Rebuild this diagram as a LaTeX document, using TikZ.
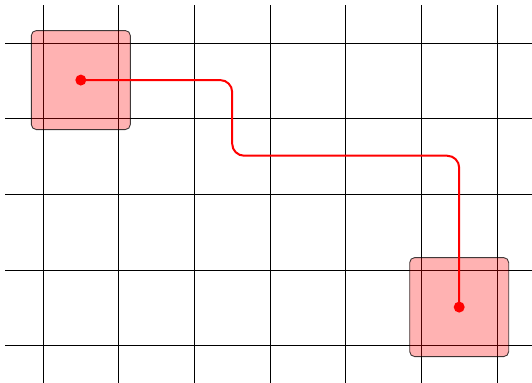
\documentclass[tikz,border=0pt]{standalone}
\begin{document}
\begin{tikzpicture}[x=75.67pt,y=-75.67pt,
  gridline/.style={black,line width=0.9pt},
  cell/.style={draw=black,draw opacity=0.75,fill=red,fill opacity=0.3,line width=0.9pt,rounded corners=5pt,minimum size=99pt,inner sep=0pt},
  dot/.style={circle,fill=red,minimum size=11pt,inner sep=0pt},
  route/.style={red,line width=2pt,rounded corners=12pt}]
\useasboundingbox (-0.568,-0.568) rectangle (6.462,4.493);
\begin{scope}
\clip (-0.568,-0.568) rectangle (6.462,4.493);
\foreach \i in {0,...,6} \draw[gridline] (\i,-0.5) -- (\i,4.6);
\foreach \j in {0,...,4} \draw[gridline] (-0.5,\j) -- (6.6,\j);
\end{scope}
\node[cell] (a) at (0.5,0.49) {};
\node[cell] (b) at (5.5,3.49) {};
\coordinate (m) at (2.5,1.49);
\node[dot] (da) at (a.center) {};
\node[dot] (db) at (b.center) {};
\draw[route] (da.center) -| (m) -| (db.center);
\end{tikzpicture}
\end{document}
